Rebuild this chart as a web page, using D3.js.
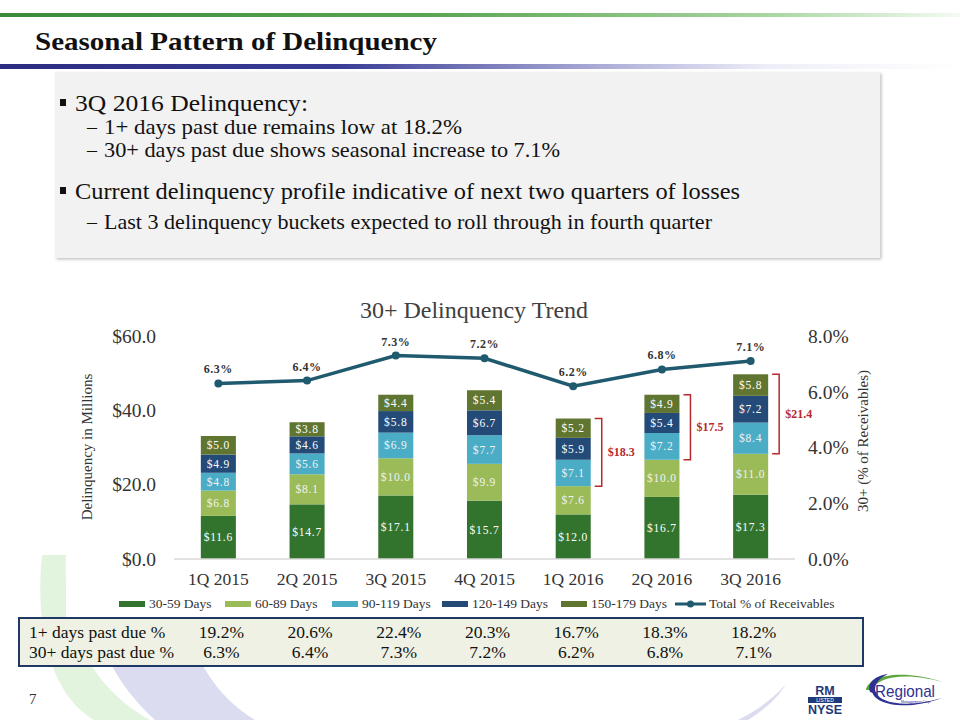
<!DOCTYPE html>
<html>
<head>
<meta charset="utf-8">
<script src="https://cdn.jsdelivr.net/npm/d3@7"></script>
<style>
  html, body { margin: 0; padding: 0; background: #fff; }
  svg { display: block; }
</style>
</head>
<body>
<svg id="chart" width="960" height="720" font-family="Liberation Serif, Times New Roman, serif"></svg>
<script>
// ---------- DATA ----------
const quarters = ["1Q 2015", "2Q 2015", "3Q 2015", "4Q 2015", "1Q 2016", "2Q 2016", "3Q 2016"];
const days30_59  = [11.6, 14.7, 17.1, 15.7, 12.0, 16.7, 17.3];
const days60_89  = [6.8, 8.1, 10.0, 9.9, 7.6, 10.0, 11.0];
const days90_119 = [4.8, 5.6, 6.9, 7.7, 7.1, 7.2, 8.4];
const days120_149 = [4.9, 4.6, 5.8, 6.7, 5.9, 5.4, 7.2];
const days150_179 = [5.0, 3.8, 4.4, 5.4, 5.2, 4.9, 5.8];
const totalPct = [6.3, 6.4, 7.3, 7.2, 6.2, 6.8, 7.1];
const seriesNames = ["30-59 Days", "60-89 Days", "90-119 Days", "120-149 Days", "150-179 Days"];
const lineName = "Total % of Receivables";
const dollarTicks = [0, 20, 40, 60];
const pctTicks = [0, 2, 4, 6, 8];
const bracketQuarters = ["1Q 2016", "2Q 2016", "3Q 2016"];
const bracketLabels = ["$18.3", "$17.5", "$21.4"];
const onePlusPct = ["19.2%", "20.6%", "22.4%", "20.3%", "16.7%", "18.3%", "18.2%"];
const thirtyPlusPct = ["6.3%", "6.4%", "7.3%", "7.2%", "6.2%", "6.8%", "7.1%"];
const tableRowLabels = ["1+ days past due %", "30+ days past due %"];

const colors = ["#32742d", "#9bbb59", "#4bacc6", "#244a78", "#5f7530"];
const lineColor = "#1f5a6e";
const bracketColor = "#b8282c";
const SANS = "Liberation Sans, Arial, sans-serif";

const svg = d3.select("#chart");
const defs = svg.append("defs");

// ---------- background decoration ----------
const gGrad = defs.append("linearGradient").attr("id", "gGrad");
[[0, "#3a8a38"], [0.45, "#5aa552"], [0.8, "#a8d6a0"], [1, "#f4fbf3"]].forEach(([o, c]) =>
  gGrad.append("stop").attr("offset", o).attr("stop-color", c));
const bGrad = defs.append("linearGradient").attr("id", "bGrad");
[[0, "#2b2d80"], [0.35, "#383c95"], [0.62, "#a9aad6"], [0.8, "#eeeef8"], [1, "#ffffff"]].forEach(([o, c]) =>
  bGrad.append("stop").attr("offset", o).attr("stop-color", c));
const shadow = defs.append("filter").attr("id", "shadow").attr("x", "-5%").attr("y", "-5%").attr("width", "110%").attr("height", "115%");
shadow.append("feDropShadow").attr("dx", 1.5).attr("dy", 1.5).attr("stdDeviation", 1.5).attr("flood-color", "#999").attr("flood-opacity", 0.6);

svg.append("path").attr("d", "M42,555 L66,555 C63,615 80,680 150,720 L94,720 C44,690 36,612 42,555 Z").attr("fill", "#e2f4dd");
svg.append("path").attr("d", "M95,617 L185,617 C195,660 215,695 255,720 L155,720 C122,690 102,655 95,617 Z").attr("fill", "#dcdcf1");
svg.append("path").attr("d", "M786,684 C772,700 757,710 738,720 L748,720 C764,710 778,698 786,684 Z").attr("fill", "#dcdcf1");

svg.append("rect").attr("x", 0).attr("y", 13).attr("width", 960).attr("height", 4).attr("fill", "url(#gGrad)");
svg.append("rect").attr("x", 0).attr("y", 64).attr("width", 960).attr("height", 5).attr("fill", "url(#bGrad)");
svg.append("text").attr("x", 35).attr("y", 50).attr("font-size", 26).attr("font-weight", "bold").attr("fill", "#111")
  .attr("textLength", 402).attr("lengthAdjust", "spacingAndGlyphs")
  .text("Seasonal Pattern of Delinquency");

// ---------- bullet box ----------
svg.append("rect").attr("x", 55).attr("y", 72).attr("width", 825).attr("height", 186)
  .attr("fill", "#f2f2f2").attr("filter", "url(#shadow)");
const bullets = [
  { lvl: 1, y: 111, t: "3Q 2016 Delinquency:", w: 233 },
  { lvl: 2, y: 134, t: "1+ days past due remains low at 18.2%", w: 358 },
  { lvl: 2, y: 157, t: "30+ days past due shows seasonal increase to 7.1%", w: 456 },
  { lvl: 1, y: 199, t: "Current delinquency profile indicative of next two quarters of losses", w: 665 },
  { lvl: 2, y: 229, t: "Last 3 delinquency buckets expected to roll through in fourth quarter", w: 608 }
];
bullets.forEach(b => {
  if (b.lvl === 1) {
    svg.append("rect").attr("x", 60).attr("y", b.y - 12).attr("width", 6).attr("height", 7).attr("fill", "#111");
    svg.append("text").attr("x", 75).attr("y", b.y).attr("font-size", 24).attr("fill", "#111")
      .attr("textLength", b.w).attr("lengthAdjust", "spacingAndGlyphs").text(b.t);
  } else {
    svg.append("text").attr("x", 87).attr("y", b.y).attr("font-size", 20).attr("fill", "#111").text("–");
    svg.append("text").attr("x", 104).attr("y", b.y).attr("font-size", 21.5).attr("fill", "#111")
      .attr("textLength", b.w).attr("lengthAdjust", "spacingAndGlyphs").text(b.t);
  }
});

// ---------- chart ----------
svg.append("rect").attr("x", 66).attr("y", 278).attr("width", 814).attr("height", 339).attr("fill", "#fff");

const x = d3.scaleBand().domain(quarters).range([174, 795]).paddingInner(0.605).paddingOuter(0.3025);
const y = d3.scaleLinear().domain([0, 60]).range([559, 336]);
const y2 = d3.scaleLinear().domain([0, 8]).range([559, 336]);

svg.append("text").attr("x", 474).attr("y", 318).attr("text-anchor", "middle")
  .attr("font-size", 24).attr("fill", "#404040").text("30+ Delinquency Trend");

const rows = quarters.map((q, i) => ({
  q, "30-59 Days": days30_59[i], "60-89 Days": days60_89[i], "90-119 Days": days90_119[i],
  "120-149 Days": days120_149[i], "150-179 Days": days150_179[i]
}));
const stacked = d3.stack().keys(seriesNames)(rows);

const layers = svg.append("g").selectAll("g").data(stacked).join("g").attr("fill", (d, i) => colors[i]);
layers.selectAll("rect").data(d => d).join("rect")
  .attr("x", d => x(d.data.q)).attr("width", x.bandwidth())
  .attr("y", d => y(d[1])).attr("height", d => y(d[0]) - y(d[1]));
const labLayers = svg.append("g").selectAll("g").data(stacked).join("g");
labLayers.selectAll("text").data(d => d.map(v => ({ v, key: d.key }))).join("text")
  .attr("x", d => x(d.v.data.q) + x.bandwidth() / 2)
  .attr("y", d => (y(d.v[0]) + y(d.v[1])) / 2 + 4)
  .attr("text-anchor", "middle").attr("font-size", 11.5).attr("letter-spacing", 0.8)
  .attr("fill", d => (d.key === "60-89 Days" || d.key === "90-119 Days") ? "#eef3f4" : "#ffffff")
  .text(d => "$" + d.v.data[d.key].toFixed(1));

// baseline
svg.append("line").attr("x1", 174).attr("x2", 795).attr("y1", y(0)).attr("y2", y(0)).attr("stroke", "#d9d9d9").attr("stroke-width", 1.5);

// axes
const axL = svg.append("g").attr("transform", "translate(174,0)")
  .call(d3.axisLeft(y).tickValues(dollarTicks).tickSize(0).tickPadding(18).tickFormat(d => "$" + d.toFixed(1)));
const axR = svg.append("g").attr("transform", "translate(795,0)")
  .call(d3.axisRight(y2).tickValues(pctTicks).tickSize(0).tickPadding(13).tickFormat(d => d.toFixed(1) + "%"));
const axB = svg.append("g").attr("transform", "translate(0," + y(0) + ")")
  .call(d3.axisBottom(x).tickSize(0).tickPadding(14));
[axL, axR, axB].forEach(a => {
  a.select(".domain").remove();
  a.selectAll("text").attr("font-family", "Liberation Serif, serif").attr("fill", "#333");
});
axL.attr("font-size", 19.5);
axR.attr("font-size", 19.5);
axB.attr("font-size", 17.5);

svg.append("text").attr("transform", "translate(92,447) rotate(-90)").attr("text-anchor", "middle")
  .attr("font-size", 15).attr("fill", "#333").text("Delinquency in Millions");
svg.append("text").attr("transform", "translate(868,441) rotate(-90)").attr("text-anchor", "middle")
  .attr("font-size", 15).attr("fill", "#333").text("30+ (% of Receivables)");

// line
const lineData = quarters.map((q, i) => ({ q, v: totalPct[i] }));
svg.append("path").datum(lineData)
  .attr("d", d3.line().x(d => x(d.q) + x.bandwidth() / 2).y(d => y2(d.v)))
  .attr("fill", "none").attr("stroke", lineColor).attr("stroke-width", 3.5);
svg.append("g").selectAll("circle").data(lineData).join("circle")
  .attr("cx", d => x(d.q) + x.bandwidth() / 2).attr("cy", d => y2(d.v)).attr("r", 4).attr("fill", lineColor);
svg.append("g").selectAll("text").data(lineData).join("text")
  .attr("x", d => x(d.q) + x.bandwidth() / 2).attr("y", d => y2(d.v) - 10)
  .attr("text-anchor", "middle").attr("font-size", 12).attr("font-weight", "bold").attr("letter-spacing", 0.5)
  .attr("fill", "#333").text(d => d.v.toFixed(1) + "%");

// brackets
bracketQuarters.forEach((q, k) => {
  const i = quarters.indexOf(q);
  const top = y(days30_59[i] + days60_89[i] + days90_119[i] + days120_149[i] + days150_179[i]);
  const bot = y(days30_59[i] + days60_89[i]);
  const bx = x(q) + x.bandwidth() + 11;
  const tx = x(q) + x.bandwidth() + 4;
  svg.append("path").attr("d", `M${tx},${top}H${bx}V${bot}H${tx}`)
    .attr("fill", "none").attr("stroke", bracketColor).attr("stroke-width", 1.5);
  svg.append("text").attr("x", bx + 6).attr("y", (top + bot) / 2 + 4).attr("font-size", 12).attr("font-weight", "bold")
    .attr("fill", bracketColor).text(bracketLabels[k]);
});

// legend
const legendX = [119, 225, 332, 442, 561];
seriesNames.forEach((s, i) => {
  svg.append("rect").attr("x", legendX[i]).attr("y", 601).attr("width", 26).attr("height", 6).attr("fill", colors[i]);
  svg.append("text").attr("x", legendX[i] + 30).attr("y", 608).attr("font-size", 13.5).attr("fill", "#333").text(s);
});
svg.append("line").attr("x1", 675).attr("x2", 706).attr("y1", 604).attr("y2", 604).attr("stroke", lineColor).attr("stroke-width", 3);
svg.append("circle").attr("cx", 690.5).attr("cy", 604).attr("r", 3.5).attr("fill", lineColor);
svg.append("text").attr("x", 709).attr("y", 608).attr("font-size", 13.5).attr("fill", "#333").text(lineName);

// ---------- table ----------
svg.append("rect").attr("x", 19).attr("y", 618).attr("width", 844).attr("height", 48)
  .attr("fill", "#eef1e4").attr("stroke", "#1f3864").attr("stroke-width", 2);
[onePlusPct, thirtyPlusPct].forEach((row, r) => {
  const by = 638 + r * 20;
  svg.append("text").attr("x", 29).attr("y", by).attr("font-size", 17.5).attr("fill", "#111").text(tableRowLabels[r]);
  svg.append("g").selectAll("text").data(row).join("text")
    .attr("x", (d, i) => x(quarters[i]) + x.bandwidth() / 2 + 3).attr("y", by)
    .attr("text-anchor", "middle").attr("font-size", 17.5).attr("fill", "#111").text(d => d);
});

// page number
svg.append("text").attr("x", 29).attr("y", 704).attr("font-size", 15).attr("fill", "#333").text("7");

// ---------- logos ----------
const lg = svg.append("g").attr("font-family", SANS);
lg.append("text").attr("x", 825).attr("y", 695).attr("text-anchor", "middle").attr("font-size", 12.5).attr("font-weight", "bold")
  .attr("fill", "#1f3a7a").text("RM");
lg.append("rect").attr("x", 808).attr("y", 697).attr("width", 34).attr("height", 6).attr("fill", "#1f3a7a");
lg.append("text").attr("x", 825).attr("y", 702).attr("text-anchor", "middle").attr("font-size", 5).attr("fill", "#fff")
  .text("LISTED");
lg.append("text").attr("x", 825).attr("y", 714).attr("text-anchor", "middle").attr("font-size", 12.5).attr("font-weight", "bold")
  .attr("fill", "#1f3a7a").text("NYSE");
lg.append("path").attr("d", "M866,690 C868,676 900,668 943,682 C905,672 878,676 872,690 Z").attr("fill", "#5aa639");
lg.append("path").attr("d", "M872,690 C872,704 905,712 942,698 C908,708 880,704 876,692 Z").attr("fill", "#2e3192");
lg.append("path").attr("d", "M870,692 C866,680 880,675 888,674 C877,679 873,686 876,694 Z").attr("fill", "#2e3192");
lg.append("text").attr("x", 905).attr("y", 697).attr("text-anchor", "middle").attr("font-size", 17)
  .attr("fill", "#2e3192").attr("textLength", 60).attr("lengthAdjust", "spacingAndGlyphs").text("Regional");
lg.append("text").attr("x", 916).attr("y", 703).attr("text-anchor", "middle").attr("font-size", 3.5)
  .attr("fill", "#2e3192").text("Management Corp.");
</script>
</body>
</html>
